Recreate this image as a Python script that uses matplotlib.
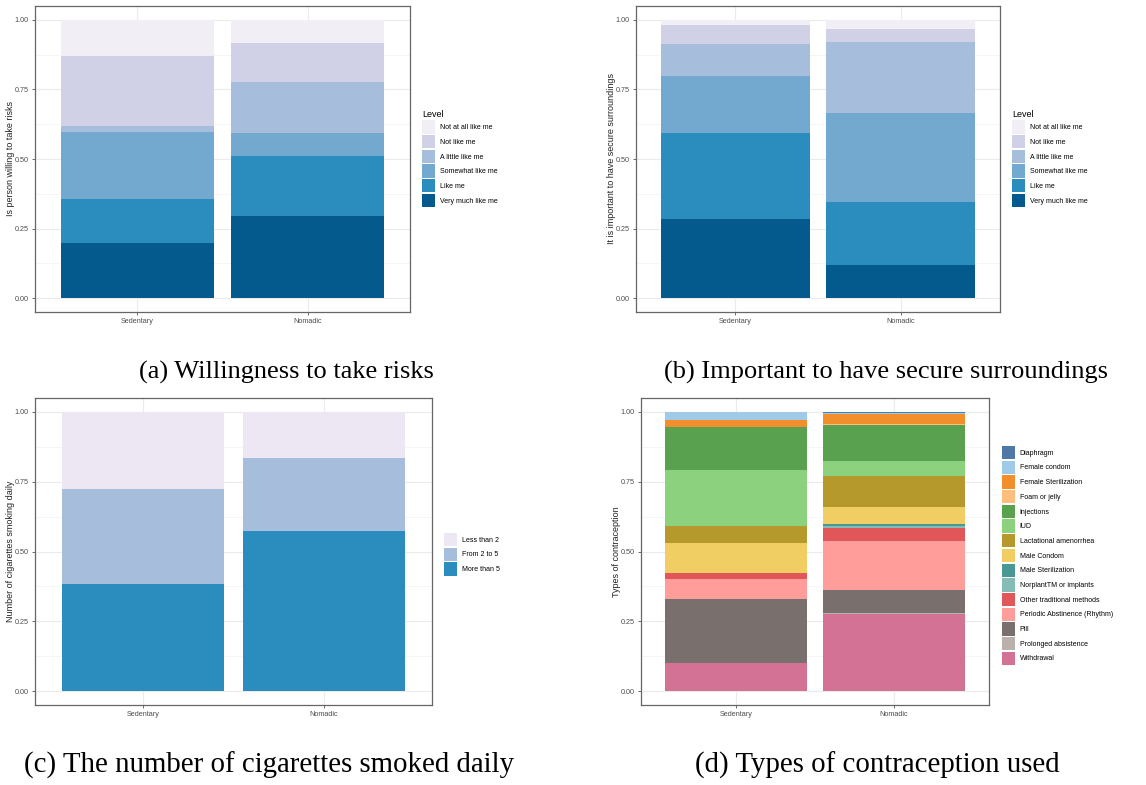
import numpy as np
import matplotlib.pyplot as plt
from matplotlib.patches import Patch

plt.rcParams['font.family'] = ['Liberation Sans', 'DejaVu Sans']

W, H = 1146, 785

groups = ["Sedentary", "Nomadic"]

# (a) and (b): levels listed bottom -> top of each stacked bar
levels = ["Very much like me", "Like me", "Somewhat like me",
          "A little like me", "Not like me", "Not at all like me"]
risk_sedentary = [0.198, 0.159, 0.240, 0.022, 0.252, 0.129]
risk_nomadic = [0.295, 0.215, 0.082, 0.185, 0.140, 0.083]
secure_sedentary = [0.285, 0.308, 0.206, 0.115, 0.066, 0.020]
secure_nomadic = [0.120, 0.226, 0.319, 0.257, 0.047, 0.031]

# (c) cigarettes per day, bottom -> top
smoke_levels = ["More than 5", "From 2 to 5", "Less than 2"]
smoke_sedentary = [0.383, 0.340, 0.277]
smoke_nomadic = [0.572, 0.262, 0.166]

# (d) contraception, bottom -> top
methods = ["Withdrawal", "Prolonged absistence", "Pill",
           "Periodic Abstinence (Rhythm)", "Other traditional methods",
           "NorplantTM or implants", "Male Sterilization", "Male Condom",
           "Lactational amenorrhea", "IUD", "Injections", "Foam or jelly",
           "Female Sterilization", "Female condom", "Diaphragm"]
contra_sedentary = [0.100, 0.000, 0.230, 0.070, 0.023, 0.000, 0.000, 0.108,
                    0.059, 0.202, 0.153, 0.000, 0.025, 0.030, 0.000]
contra_nomadic = [0.277, 0.004, 0.080, 0.178, 0.045, 0.007, 0.006, 0.063,
                  0.109, 0.057, 0.126, 0.004, 0.037, 0.004, 0.003]

pubu6 = ["#045a8d", "#2b8cbe", "#74a9cf", "#a6bddb", "#d0d1e6", "#f1eef6"]
pubu3 = ["#2b8cbe", "#a6bddb", "#ece7f2"]
tab = ["#D37295", "#BAB0AC", "#79706E", "#FF9D9A", "#E15759", "#86BCB6",
       "#499894", "#F1CE63", "#B6992D", "#8CD17D", "#59A14F", "#FFBE7D",
       "#F28E2B", "#A0CBE8", "#4E79A7"]

fig = plt.figure(figsize=(W / 100, H / 100), dpi=100)


def px_rect(x0, y0, x1, y1):
    return [x0 / W, 1 - y1 / H, (x1 - x0) / W, (y1 - y0) / H]


def draw_panel(box, data, names, colors, ylabel, caption, cap_xy, cap_size,
               leg_xy, title=None):
    ax = fig.add_axes(px_rect(*box))
    x = np.arange(1, len(groups) + 1)
    bottom = np.zeros(len(groups))
    for i in range(len(names)):
        vals = np.array([d[i] for d in data])
        ax.bar(x, vals, 0.9, bottom=bottom, color=colors[i], linewidth=0, zorder=2)
        bottom += vals
    ax.set_xlim(0.4, 2.6)
    ax.set_ylim(-0.05, 1.05)
    ax.set_xticks(x)
    ax.set_xticklabels(groups)
    ax.set_yticks([0, 0.25, 0.5, 0.75, 1.0])
    ax.set_yticklabels(["0.00", "0.25", "0.50", "0.75", "1.00"])
    ax.set_yticks([0.125, 0.375, 0.625, 0.875], minor=True)
    ax.grid(True, which="major", color="#ebebeb", lw=0.8, zorder=0)
    ax.grid(True, which="minor", axis="y", color="#f2f2f2", lw=0.5, zorder=0)
    ax.set_axisbelow(True)
    ax.tick_params(which="major", length=2.5, width=0.6, color="#555555",
                   labelcolor="#4d4d4d", labelsize=5.2, pad=2)
    ax.tick_params(which="minor", length=0)
    for s in ax.spines.values():
        s.set_color("#666666")
        s.set_linewidth(0.9)
    ax.set_ylabel(ylabel, fontsize=6.5, color="#222222", labelpad=-0.5)
    fig.text(cap_xy[0] / W, 1 - cap_xy[1] / H, caption, ha="center", va="center",
             family="Liberation Serif", fontsize=cap_size)
    handles = [Patch(facecolor=c, edgecolor="none") for c in colors[::-1]]
    fig.legend(handles, names[::-1], loc="upper left",
               bbox_to_anchor=(leg_xy[0] / W, 1 - leg_xy[1] / H),
               frameon=False, fontsize=5, title=title, title_fontsize=6.5,
               handlelength=1.92, handleheight=2.57, handletextpad=0.6,
               labelspacing=0.2, borderpad=0, borderaxespad=0,
               alignment="left")
    return ax


draw_panel((35, 6, 410, 312), [risk_sedentary, risk_nomadic], levels, pubu6,
           "Is person willing to take risks", "(a) Willingness to take risks",
           (286, 372), 19, (422, 110), title="Level")
draw_panel((636, 6, 1000, 312), [secure_sedentary, secure_nomadic], levels, pubu6,
           "It is important to have secure surroundings",
           "(b) Important to have secure surroundings", (886, 372), 19,
           (1012, 110), title="Level")
draw_panel((35, 398, 432, 705), [smoke_sedentary, smoke_nomadic], smoke_levels, pubu3,
           "Number of cigarettes smoking daily",
           "(c) The number of cigarettes smoked daily", (269, 765), 20.8,
           (444, 533))
draw_panel((641, 398, 989, 705), [contra_sedentary, contra_nomadic], methods, tab,
           "Types of contraception", "(d) Types of contraception used",
           (877, 765), 20.8, (1002, 446))

fig.savefig("out.png", dpi=100)
